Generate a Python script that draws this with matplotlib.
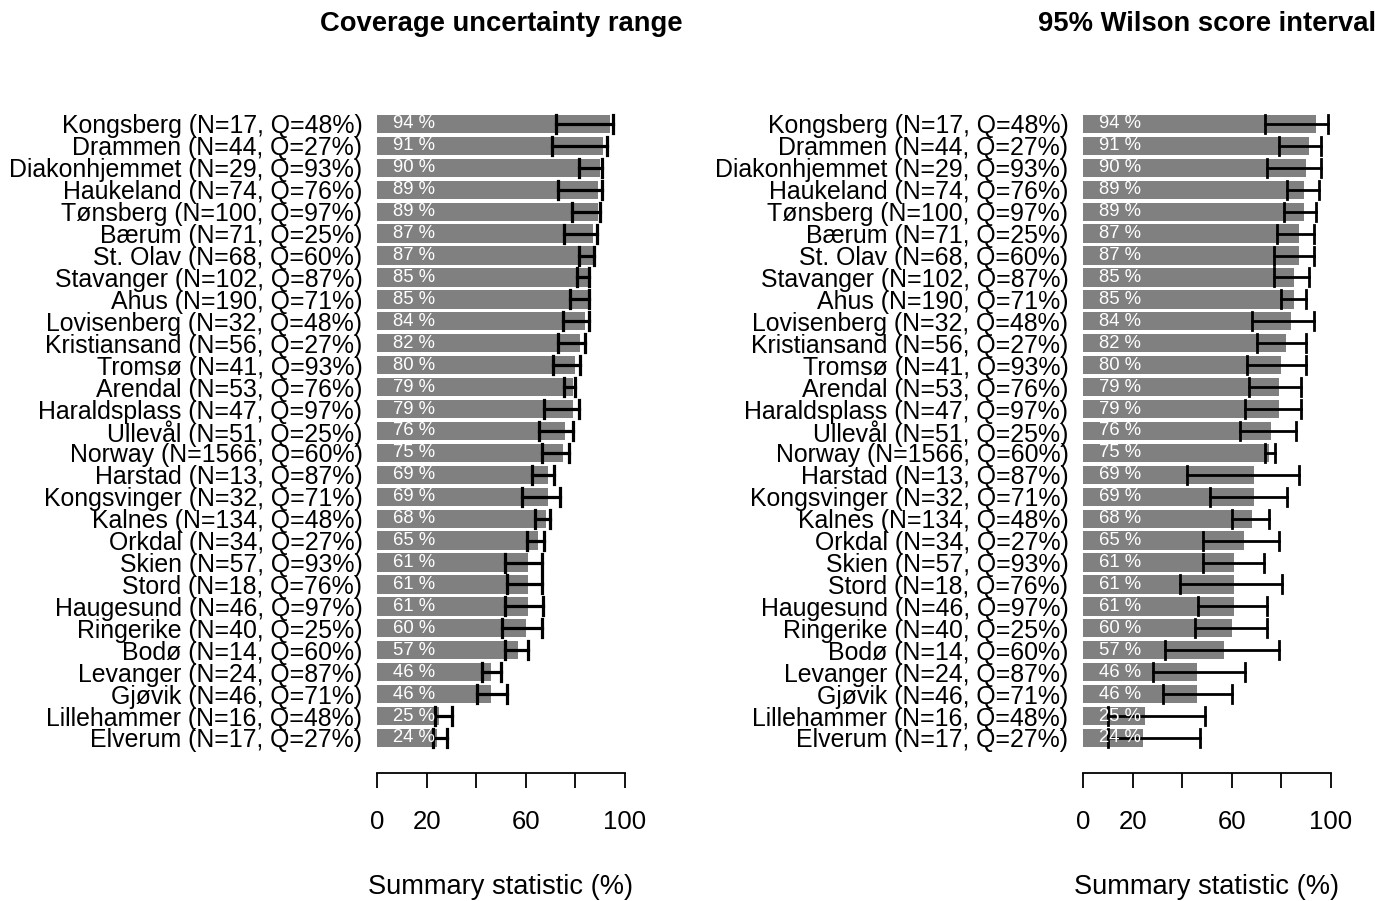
import numpy as np
import matplotlib
matplotlib.use("Agg")
import matplotlib.pyplot as plt

plt.rcParams["font.family"] = ["Liberation Sans", "DejaVu Sans"]

hospitals = ["Kongsberg", "Drammen", "Diakonhjemmet", "Haukeland", "Tønsberg",
             "Bærum", "St. Olav", "Stavanger", "Ahus", "Lovisenberg",
             "Kristiansand", "Tromsø", "Arendal", "Haraldsplass", "Ullevål",
             "Norway", "Harstad", "Kongsvinger", "Kalnes", "Orkdal", "Skien",
             "Stord", "Haugesund", "Ringerike", "Bodø", "Levanger", "Gjøvik",
             "Lillehammer", "Elverum"]
n_obs = [17, 44, 29, 74, 100, 71, 68, 102, 190, 32, 56, 41, 53, 47, 51,
         1566, 13, 32, 134, 34, 57, 18, 46, 40, 14, 24, 46, 16, 17]
q_pct = [48, 27, 93, 76, 97, 25, 60, 87, 71, 48, 27, 93, 76, 97, 25,
         60, 87, 71, 48, 27, 93, 76, 97, 25, 60, 87, 71, 48, 27]
stat = [94, 91, 90, 89, 89, 87, 87, 85, 85, 84, 82, 80, 79, 79, 76,
        75, 69, 69, 68, 65, 61, 61, 61, 60, 57, 46, 46, 25, 24]

# coverage uncertainty range (left panel)
cov_lo = [72.2, 70.4, 81.5, 72.8, 78.8, 75.4, 81.6, 80.5, 77.8, 75.1, 72.8,
          70.8, 75.5, 67.5, 65.3, 66.7, 62.6, 58.5, 63.6, 60.4, 51.7, 52.4,
          51.7, 50.5, 51.7, 42.2, 40.5, 23.4, 22.6]
cov_hi = [95.0, 92.9, 90.6, 90.9, 89.9, 88.6, 87.6, 85.5, 85.6, 85.4, 83.9,
          81.9, 79.7, 81.6, 79.2, 77.6, 71.5, 73.8, 69.8, 67.2, 66.7, 66.4,
          66.8, 66.4, 60.9, 50.1, 52.3, 30.2, 28.1]

# 95% Wilson score interval (right panel)
wil_lo = [73.3, 79.1, 74.1, 82.1, 81.1, 78.1, 77.0, 77.1, 80.0, 68.0, 70.2,
          66.1, 67.1, 65.2, 63.2, 73.3, 42.1, 51.4, 60.2, 48.2, 48.2, 39.3,
          46.4, 45.2, 32.9, 28.1, 32.1, 10.0, 10.0]
wil_hi = [98.9, 96.1, 96.1, 95.0, 93.9, 93.1, 93.1, 91.1, 90.0, 93.1, 89.9,
          89.9, 88.1, 88.1, 86.0, 77.3, 87.0, 82.1, 75.0, 79.1, 73.1, 80.2,
          74.1, 74.1, 79.1, 65.3, 60.2, 49.3, 47.2]

W, H = 1375, 901
fig = plt.figure(figsize=(W / 100, H / 100), dpi=100)

labels = [f"{h} (N={n}, Q={q}%)" for h, n, q in zip(hospitals, n_obs, q_pct)]
rows = np.arange(len(hospitals))
row_px = 21.93
top_px, axis_px = 110.8, 773
y_bottom = 28 + (axis_px - 738) / row_px


def draw_panel(x0_px, lo, hi, title, lw):
    ax = fig.add_axes([x0_px / W, 1 - axis_px / H, 248 / W, (axis_px - top_px) / H])
    ax.barh(rows, stat, height=0.833, color="#808080", edgecolor="none")
    for r, s in zip(rows, stat):
        ax.text(6.3, r, f"{s} %", color="white", fontsize=13.3, ha="left", va="center")
    for r, a, b in zip(rows, lo, hi):
        ax.plot([a, b], [r, r], color="black", lw=lw, clip_on=False)
        ax.plot([a, a], [r - 0.41, r + 0.41], color="black", lw=lw, clip_on=False)
        ax.plot([b, b], [r - 0.41, r + 0.41], color="black", lw=lw, clip_on=False)
    ax.set_xlim(0, 100)
    ax.set_ylim(y_bottom, -0.6)
    for side in ("top", "right", "left"):
        ax.spines[side].set_visible(False)
    ax.spines["bottom"].set_linewidth(1.3)
    ax.set_xticks([0, 20, 40, 60, 80, 100])
    ax.set_xticklabels(["0", "20", "", "60", "", "100"], fontsize=18.5)
    ax.tick_params(axis="x", length=10.8, width=1.3, pad=16)
    ax.set_yticks(rows)
    ax.set_yticklabels(labels, fontsize=17.9)
    ax.tick_params(axis="y", length=0, pad=10.5)
    ax.set_xlabel("Summary statistic (%)", fontsize=19.6, labelpad=29)
    ax.set_title(title, fontsize=19.7, fontweight="bold", pad=0,
                 y=(axis_px - 24) / (axis_px - top_px), va="center")
    return ax


draw_panel(377, cov_lo, cov_hi, "Coverage uncertainty range", 2.3)
draw_panel(1083, wil_lo, wil_hi, "95% Wilson score interval", 2.0)

fig.savefig("out.png", dpi=100, facecolor="white")
